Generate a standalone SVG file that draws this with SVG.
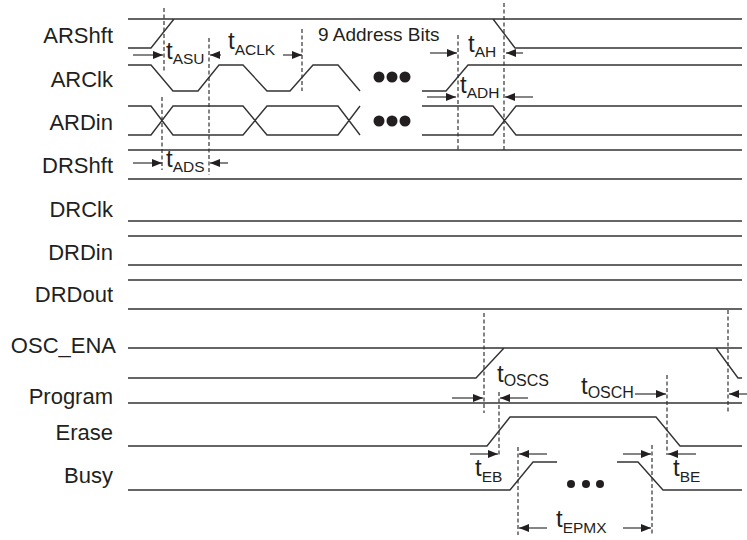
<svg xmlns="http://www.w3.org/2000/svg" width="747" height="540" viewBox="0 0 747 540">
<style>
text{font-family:"Liberation Sans",Arial,sans-serif;fill:#231f20}
.lbl{font-size:22px;text-anchor:end}
.t{font-size:24px}
.s{font-size:15.5px}
.w{fill:none;stroke:#333;stroke-width:1.4}
.d{fill:none;stroke:#333;stroke-width:1.2;stroke-dasharray:4 2.5}
.a{fill:none;stroke:#333;stroke-width:1.2}
.dot{fill:#231f20}
</style>
<defs>
<marker id="ah" viewBox="0 0 10 8" refX="10" refY="4" markerWidth="10" markerHeight="8" markerUnits="userSpaceOnUse" orient="auto">
<path d="M0,0 L10,4 L0,8 Z" fill="#231f20"/>
</marker>
</defs>
<rect width="747" height="540" fill="#fff"/>

<g id="ARShft">
<text class="lbl" x="113" y="43">ARShft</text>
<path class="w" d="M128,19 H742 M128,48 H151 L174,19 M493,19 L515,48 H742"/>
</g>
<g id="ARClk">
<text class="lbl" x="113" y="87">ARClk</text>
<path class="w" d="M128,65 H151 L173,91 H198 L219,65 H243 L267,91 H290 L313,65 H338 L360,91 M422,91 H446 L468,65 H742"/>
<circle class="dot" cx="379" cy="77" r="5.5"/><circle class="dot" cx="392" cy="77" r="5.5"/><circle class="dot" cx="405" cy="77" r="5.5"/>
</g>
<g id="ARDin">
<text class="lbl" x="113" y="130">ARDin</text>
<path class="w" d="M128,106 H151 L173,135 H243 L267,106 H338 L360,135 M128,135 H151 L173,106 H243 L267,135 H338 L360,106 M422,106 H493 L516,135 H742 M422,135 H493 L516,106 H742"/>
<circle class="dot" cx="379" cy="121" r="5.5"/><circle class="dot" cx="392" cy="121" r="5.5"/><circle class="dot" cx="405" cy="121" r="5.5"/>
</g>
<g id="DRShft">
<text class="lbl" x="113" y="173">DRShft</text>
<path class="w" d="M128,150 H742 M128,179 H742"/>
</g>
<g id="DRClk">
<text class="lbl" x="113" y="217">DRClk</text>
<path class="w" d="M128,221 H742"/>
</g>
<g id="DRDin">
<text class="lbl" x="113" y="260">DRDin</text>
<path class="w" d="M128,236 H742 M128,265 H742"/>
</g>
<g id="DRDout">
<text class="lbl" x="113" y="302">DRDout</text>
<path class="w" d="M128,280 H742 M128,309 H742"/>
</g>
<g id="OSC_ENA">
<text class="lbl" x="116" y="353">OSC_ENA</text>
<path class="w" d="M128,348 H742 M128,378 H476 L504,348 M716,348 L738,378 H742"/>
</g>
<g id="Program">
<text class="lbl" x="113" y="404">Program</text>
<path class="w" d="M128,403 H742"/>
</g>
<g id="Erase">
<text class="lbl" x="113" y="440">Erase</text>
<path class="w" d="M128,446 H487 L510,417 H656 L680,446 H742"/>
</g>
<g id="Busy">
<text class="lbl" x="113" y="483">Busy</text>
<path class="w" d="M128,490 H510 L533,462 H557 M617,462 H638 L663,490 H742"/>
<circle class="dot" cx="571" cy="484" r="4"/><circle class="dot" cx="586" cy="484" r="4"/><circle class="dot" cx="600" cy="484" r="4"/>
</g>

<g id="connectors">
<path class="d" d="M164,8 V71 M162,97 V170 M209,38 V175 M302,29 V91 M458,35 V152 M504,3 V152 M484,313 V413 M499,392 V457 M728,310 V412 M667,375 V455 M518,447 V535 M652,445 V535"/>
<g marker-end="url(#ah)" class="a">
<line x1="133" y1="55" x2="163" y2="55"/>
<line x1="221" y1="55" x2="210" y2="55"/>
<line x1="283" y1="55" x2="302" y2="55"/>
<line x1="430" y1="53" x2="457" y2="53"/>
<line x1="523" y1="53" x2="506" y2="53"/>
<line x1="427" y1="97" x2="456" y2="97"/>
<line x1="533" y1="97" x2="505" y2="97"/>
<line x1="133" y1="163" x2="162" y2="163"/>
<line x1="228" y1="163" x2="210" y2="163"/>
<line x1="452" y1="398" x2="483" y2="398"/>
<line x1="528" y1="398" x2="500" y2="398"/>
<line x1="635" y1="394" x2="666" y2="394"/>
<line x1="747" y1="394" x2="729" y2="394"/>
<line x1="470" y1="454" x2="498" y2="454"/>
<line x1="547" y1="454" x2="519" y2="454"/>
<line x1="623" y1="454" x2="651" y2="454"/>
<line x1="696" y1="454" x2="668" y2="454"/>
<line x1="547" y1="528" x2="519" y2="528"/>
<line x1="623" y1="528" x2="651" y2="528"/>
</g>
</g>

<g id="labels">
<text x="318" y="41" style="font-size:19px">9 Address Bits</text>
<text x="166" y="59"><tspan class="t">t</tspan><tspan class="s" dy="5">ASU</tspan></text>
<text x="228" y="49"><tspan class="t">t</tspan><tspan class="s" dy="6">ACLK</tspan></text>
<text x="468" y="52"><tspan class="t">t</tspan><tspan class="s" dy="5">AH</tspan></text>
<text x="460" y="93"><tspan class="t">t</tspan><tspan class="s" dy="5">ADH</tspan></text>
<text x="166" y="167"><tspan class="t">t</tspan><tspan class="s" dy="5">ADS</tspan></text>
<text x="497" y="382"><tspan class="t">t</tspan><tspan class="s" dy="4" style="font-size:16px">OSCS</tspan></text>
<text x="581" y="394"><tspan class="t">t</tspan><tspan class="s" dy="4" style="font-size:16px">OSCH</tspan></text>
<text x="475" y="476"><tspan class="t">t</tspan><tspan class="s" dy="6">EB</tspan></text>
<text x="673" y="476"><tspan class="t">t</tspan><tspan class="s" dy="6">BE</tspan></text>
<text x="556" y="527"><tspan class="t">t</tspan><tspan class="s" dy="6">EPMX</tspan></text>
</g>
</svg>
